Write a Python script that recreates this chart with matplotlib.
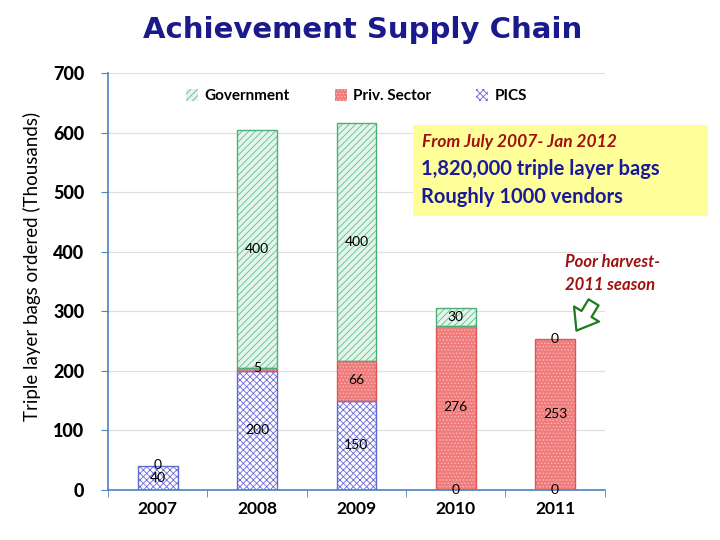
import matplotlib
matplotlib.use("Agg")
import matplotlib.pyplot as plt
import numpy as np
from matplotlib.patches import FancyArrowPatch, Rectangle

years = ["2007", "2008", "2009", "2010", "2011"]
pics = [40, 200, 150, 0, 0]
priv = [0, 5, 66, 276, 253]
gov = [0, 400, 400, 30, 0]
yticks = [0, 100, 200, 300, 400, 500, 600, 700]

# which labels are shown
pics_lbl = [True, True, True, True, True]
priv_lbl = [True, True, True, True, True]
gov_lbl = [False, True, True, True, True]

plt.rcParams['font.family'] = ['Lato', 'DejaVu Sans']
plt.rcParams['hatch.linewidth'] = 0.6

fig = plt.figure(figsize=(7.2, 5.4), dpi=100)
ax = fig.add_axes([0.15, 0.0926, 0.69, 0.7722])

x = np.arange(len(years))
w = 0.4
pics_a = np.array(pics); priv_a = np.array(priv); gov_a = np.array(gov)

def lw_of(vals, lw=1.0):
    return [lw if v > 0 else 0 for v in vals]

gov_face, gov_hatch, gov_edge = '#E3F5EA', '#5CBF86', '#4CAF78'
priv_face, priv_hatch, priv_edge = '#F07B7B', '#F9B9B9', '#E05555'
pics_face, pics_hatch, pics_edge = 'white', '#6A6AD8', '#5B6BD0'

b1 = ax.bar(x, pics_a, w, color=pics_face, edgecolor=pics_hatch, hatch='xxxxx', lw=0, label='PICS', zorder=2)
ax.bar(x, pics_a, w, fill=False, edgecolor=pics_edge, lw=lw_of(pics), zorder=3)
b2 = ax.bar(x, priv_a, w, bottom=pics_a, color=priv_face, edgecolor=priv_hatch, hatch='.....', lw=0, label='Priv. Sector', zorder=2)
ax.bar(x, priv_a, w, bottom=pics_a, fill=False, edgecolor=priv_edge, lw=lw_of(priv), zorder=3)
b3 = ax.bar(x, gov_a, w, bottom=pics_a + priv_a, color=gov_face, edgecolor=gov_hatch, hatch='/////', lw=0, label='Government', zorder=2)
ax.bar(x, gov_a, w, bottom=pics_a + priv_a, fill=False, edgecolor=gov_edge, lw=lw_of(gov), zorder=3)

for i in range(len(years)):
    if pics_lbl[i]:
        ax.text(x[i], pics_a[i] / 2, str(pics[i]), ha='center', va='center', fontsize=10, zorder=5)
    if priv_lbl[i]:
        ax.text(x[i], pics_a[i] + priv_a[i] / 2 + 1.5, str(priv[i]), ha='center', va='center', fontsize=10, zorder=5)
    if gov_lbl[i]:
        ax.text(x[i], pics_a[i] + priv_a[i] + gov_a[i] / 2, str(gov[i]), ha='center', va='center', fontsize=10, zorder=5)

ax.set_xlim(-0.5, len(years) - 0.5)
ax.set_ylim(0, 700)
ax.set_yticks(yticks, labels=[str(t) for t in yticks])
ax.set_xticks(x, labels=years)
ax.set_xticks(np.arange(-0.5, len(years)), minor=True)
ax.tick_params(axis='x', which='major', length=0, pad=8)
ax.tick_params(axis='x', which='minor', length=5, color='#4F81BD', direction='out')
ax.tick_params(axis='y', length=5, color='#4F81BD', pad=12)
ax.yaxis.grid(True, color='#E0E0E0', lw=0.9, zorder=0)
ax.set_axisbelow(True)
for s in ['top', 'right']:
    ax.spines[s].set_visible(False)
for s in ['left', 'bottom']:
    ax.spines[s].set_color('#4F81BD')
    ax.spines[s].set_linewidth(1.2)
ax.set_ylabel('Triple layer bags ordered (Thousands)', fontsize=13.5)
ax.yaxis.set_label_coords(-0.135, 0.535)

leg = ax.legend(handles=[b3, b2, b1], loc='upper center', bbox_to_anchor=(0.5, 0.995), ncol=3,
                frameon=False, prop={'weight': 'bold', 'size': 11},
                handlelength=0.8, handleheight=0.8, columnspacing=2.95, handletextpad=0.4)

fig.text(0.504, 0.945, 'Achievement Supply Chain', ha='center', va='center', fontsize=21,
         fontweight='bold', color='#1A1A8C', family=['DejaVu Sans'])

# yellow box
fig.patches.append(Rectangle((413 / 720, 1 - 216 / 540), (708 - 413) / 720, (216 - 125) / 540,
                             transform=fig.transFigure, facecolor='#FFFF99', edgecolor='none', zorder=4))
fig.text(422 / 720, 1 - 142 / 540, 'From July 2007- Jan 2012', fontsize=12.5, style='italic',
         fontweight='bold', color='#A01010', va='center', zorder=6)
fig.text(421 / 720, 1 - 169 / 540, '1,820,000 triple layer bags', fontsize=14.5, fontweight='bold',
         color='#1A1A9A', va='center', zorder=6)
fig.text(421 / 720, 1 - 197 / 540, 'Roughly 1000 vendors', fontsize=14.5, fontweight='bold',
         color='#1A1A9A', va='center', zorder=6)

fig.text(565 / 720, 1 - 262 / 540, 'Poor harvest-', fontsize=12, style='italic', fontweight='bold',
         color='#A01010', va='center')
fig.text(565 / 720, 1 - 285 / 540, '2011 season', fontsize=12, style='italic', fontweight='bold',
         color='#A01010', va='center')

arr = FancyArrowPatch((595 / 720, 1 - 300 / 540), (575 / 720, 1 - 333 / 540), transform=fig.transFigure,
                      arrowstyle='simple,head_width=1.5,head_length=1.0,tail_width=0.6',
                      mutation_scale=14, facecolor='white', edgecolor='#1E7A1E', lw=1.6)
fig.patches.append(arr)

plt.setp(ax.get_yticklabels(), fontweight='black', fontsize=13)
plt.setp(ax.get_xticklabels(), fontweight='bold', fontsize=12.5)

fig.savefig('out.png', dpi=100)
